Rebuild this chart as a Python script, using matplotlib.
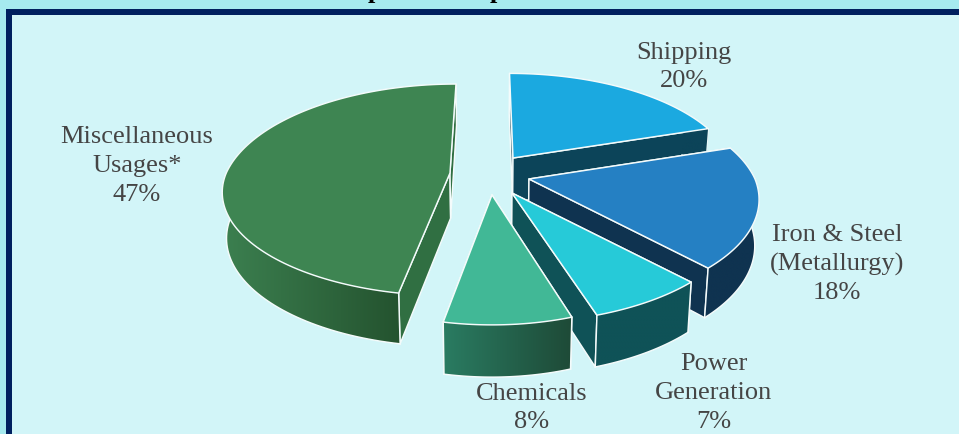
"""
Exploded 3D pie of end-use shares, drawn by hand from polygons so the
perspective and the extruded rims can be controlled.

Output: out.png
"""

import numpy as np
import matplotlib
matplotlib.use("Agg")
import matplotlib.pyplot as plt
from matplotlib.colors import LinearSegmentedColormap
from matplotlib.patches import Polygon, Rectangle

# Clockwise from 12 o'clock
categories = ["Shipping", "Iron & Steel\n(Metallurgy)", "Power\nGeneration",
              "Chemicals", "Miscellaneous\nUsages*"]
shares = [20, 18, 7, 8, 47]

top_colors = ["#1BA9E0", "#2580C3", "#26CAD8", "#41B896", "#3E8552"]
cut_colors = ["#0C4459", "#0F3350", "#0F5257", "#1F5C48", "#306F42"]
rim_left = ["#0C4459", "#0F3350", "#0F5257", "#2A7C62", "#3C8050"]
rim_right = ["#0C4459", "#0F3350", "#0F5257", "#1E4A37", "#24532F"]

# slice offsets from the pie centre, in pixels
explode_x = [26, 42, 25, 5, -37]
explode_y = [-14, 7, 21, 23, 1]
# far slices render a little smaller; the big one is a bit flatter in front
scale_x = [0.965, 1, 1, 0.94, 0.99]
scale_y = [0.951, 1, 1, 1, 1]
front_y = [1, 1, 1, 1, 0.945]
label_x = [684, 837, 714, 532, 137]
label_y = [67, 264, 393, 408, 166]

CENTER = (487, 172)
RX, RY = 226, 105.6
PERSP = 0.187
VANISH_X = 490
SHRINK = 0.016
EDGE = "#F4FBFB"
EDGE_LW = 1.05


def project(theta, apex, i):
    # unit circle point around the slice apex -> screen position
    wx, wy = np.sin(theta), np.cos(theta)
    s = 1 / (1 + PERSP * wy)
    lean = 0.15 * np.clip(wy, 0, None) * (VANISH_X - apex[0])
    ry = RY * scale_y[i] * np.where(wy < 0, front_y[i], 1)
    return apex[0] + RX * scale_x[i] * wx * s + lean, apex[1] - ry * wy * s


def drop(x, y):
    # bottom face sits below the top one and slightly towards the middle
    depth = 41 + 11 * (np.asarray(y) - 84) / 236
    return x + (VANISH_X - np.asarray(x)) * SHRINK, y + depth


def face(ax, xs, ys, color, z, edge=EDGE, lw=EDGE_LW):
    pts = np.column_stack([xs, ys])
    ax.add_patch(Polygon(pts, closed=True, facecolor=color, edgecolor=edge,
                         linewidth=lw, joinstyle="round", zorder=z))


def draw_rim(ax, xs, ys, xb, yb, c0, c1, z):
    outline = np.column_stack([np.r_[xs, xb[::-1]], np.r_[ys, yb[::-1]]])
    clip = Polygon(outline, closed=True, transform=ax.transData)
    cmap = LinearSegmentedColormap.from_list("rim", [c0, c1])
    ext = (outline[:, 0].min(), outline[:, 0].max(),
           outline[:, 1].max(), outline[:, 1].min())
    im = ax.imshow(np.linspace(0, 1, 256)[None, :], cmap=cmap, extent=ext,
                   aspect="auto", zorder=z, interpolation="bilinear")
    im.set_clip_path(clip)
    ax.plot(xb, yb, color=EDGE, lw=EDGE_LW, zorder=z + 0.1)


def draw_slice(ax, start, end, apex, i, z):
    thetas = np.linspace(start, end, 120)
    xs, ys = project(thetas, apex, i)
    xb, yb = drop(xs, ys)
    ax_b, ay_b = drop(apex[0], apex[1])

    # the two flat cut faces
    for k in (0, -1):
        face(ax, [apex[0], xs[k], xb[k], ax_b], [apex[1], ys[k], yb[k], ay_b],
             cut_colors[i], z)

    # only the near half of the rim shows, the rest is under the top face
    idx = np.where(np.cos(thetas) < 0.5)[0]
    draw_rim(ax, xs[idx], ys[idx], xb[idx], yb[idx],
             rim_left[i], rim_right[i], z + 0.2)

    # corner edges where the rim meets a cut face
    for k in (0, -1):
        if np.cos(thetas[k]) < 0.25:
            ax.plot([xs[k], xb[k]], [ys[k], yb[k]], color=EDGE, lw=EDGE_LW,
                    zorder=z + 0.3)

    face(ax, np.r_[apex[0], xs], np.r_[apex[1], ys], top_colors[i], z + 0.5)


def main():
    fig = plt.figure(figsize=(9.59, 4.34), dpi=100)
    ax = fig.add_axes([0, 0, 1, 1])
    plt.rcParams["font.family"] = ["Liberation Serif", "DejaVu Serif"]

    # panel background and navy frame
    fig.patch.set_facecolor("#A6EAEF")
    ax.add_patch(Rectangle((9, 12), 980, 460, facecolor="#D2F5F8",
                           edgecolor="#00205F", linewidth=4.32, zorder=0))

    # bottoms of the heading letters, cut off by the top edge
    for x in (375, 497):
        ax.text(x, -2, "p", fontsize=19, fontweight="bold", color="black",
                ha="center", va="baseline", zorder=1, clip_on=True)

    edges = np.cumsum([0] + shares) / sum(shares) * 2 * np.pi
    order = [4, 0, 1, 2, 3]
    for z, i in enumerate(order):
        apex = (CENTER[0] + explode_x[i], CENTER[1] + explode_y[i])
        draw_slice(ax, edges[i], edges[i + 1], apex, i, 2 + z)

    for name, share, lx, ly in zip(categories, shares, label_x, label_y):
        ax.text(lx, ly, f"{name}\n{share}%", fontsize=19, color="#454545",
                ha="center", va="center", linespacing=1.39, zorder=20)

    ax.set_xlim(0, 959)
    ax.set_ylim(434, 0)
    ax.axis("off")
    fig.savefig("out.png", dpi=100, facecolor=fig.get_facecolor())
    plt.close(fig)


if __name__ == "__main__":
    main()
